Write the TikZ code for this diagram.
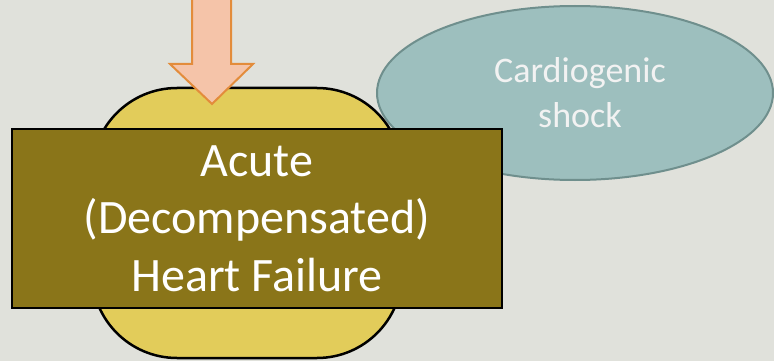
\documentclass[tikz,border=0pt]{standalone}
\usepackage{fontspec}
\setmainfont{Carlito}
\usepackage{tikz}
\usetikzlibrary{shapes.geometric, positioning}
\definecolor{slidebg}{HTML}{E0E1DB}
\definecolor{blobcolor}{HTML}{E2CC5A}
\definecolor{hfcolor}{HTML}{8A7519}
\definecolor{shockcolor}{HTML}{9DBFBE}
\definecolor{shockline}{HTML}{6F8F8D}
\definecolor{inflowcolor}{HTML}{F5C4A9}
\definecolor{inflowline}{HTML}{E38C3B}

\begin{document}
\begin{tikzpicture}[
    x=1pt, y=-1pt,
    blob/.style={draw=black, line width=2.5pt, fill=blobcolor, rounded corners=85pt, minimum width=310pt, minimum height=270pt},
    hfbox/.style={draw=black, line width=2pt, fill=hfcolor, minimum width=490pt, minimum height=179pt, text=white, align=center, font=\fontsize{48}{57.5}\selectfont},
    shockbubble/.style={ellipse, draw=shockline, line width=2pt, fill=shockcolor, minimum width=396pt, minimum height=174pt, inner sep=0pt, text=white!95!black, align=center, font=\fontsize{36}{45}\selectfont},
    inflow/.style={draw=inflowline, line width=2pt, line join=miter, fill=inflowcolor}
]

% Background
\useasboundingbox (0,0) rectangle (774,361);
\fill[slidebg] (0,0) rectangle (774,361);

% Cardiogenic shock
\node[shockbubble] (shock) at (575, 93) {\hspace*{10pt}Cardiogenic\\\hspace*{10pt}shock};

% Yellow backdrop
\node[blob] (backdrop) at (247, 223) {};

% Incoming arrow
\coordinate (arrowtip) at (212, 104);
\draw[inflow] (192,-5) -- (192,64) -- (170,64) -- (arrowtip) -- (253,64) -- (231,64) -- (231,-5) -- cycle;

% Main box
\node[hfbox] (ahf) at (257, 218.5) {Acute\\(Decompensated)\\Heart Failure};

\end{tikzpicture}
\end{document}
